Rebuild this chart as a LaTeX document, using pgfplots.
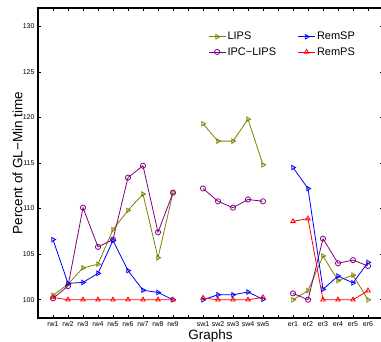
\documentclass[border=0pt]{standalone}
\usepackage{fontspec}
\setmainfont{Liberation Sans}
\usepackage{pgfplots}
\pgfplotsset{compat=1.18}
\usetikzlibrary{calc}
\definecolor{olivec}{RGB}{128,128,0}
\definecolor{purplec}{RGB}{128,0,128}
\definecolor{bluec}{RGB}{0,0,255}
\definecolor{redc}{RGB}{255,0,0}
\begin{document}
\begin{tikzpicture}
\begin{axis}[
  scale only axis, width=345pt, height=310pt,
  xmin=0, xmax=23, ymin=98, ymax=132,
  xtick={1,...,22},
  xticklabels={rw1,rw2,rw3,rw4,rw5,rw6,rw7,rw8,rw9,{},sw1,sw2,sw3,sw4,sw5,{},er1,er2,er3,er4,er5,er6},
  ytick={100,105,110,115,120,125,130},
  tick align=inside, major tick length=3.3pt,
  tick style={black, line width=0.6pt},
  tick label style={font=\fontsize{7}{8}\selectfont},
  xticklabel style={inner xsep=0pt},
  /pgf/number format/assume math mode=true,
  axis line style={line width=1.2pt},
  ylabel={Percent of GL−Min time}, xlabel={Graphs},
  label style={font=\fontsize{13.5}{15}\selectfont},
  ylabel style={at={(axis description cs:-0.0594,0.5)}, anchor=center},
  xlabel style={at={(axis description cs:0.5,-0.058)}, anchor=center},
  unbounded coords=jump,
  legend columns=2, transpose legend,
  legend cell align=left,
  legend style={at={(axis description cs:0.484,0.934)}, anchor=north west, draw=none, fill=none,
    font=\fontsize{11}{12}\selectfont, row sep=3pt,
    /tikz/every even column/.append style={column sep=20pt},
    nodes={inner sep=1.5pt}},
  every axis plot/.append style={line width=0.8pt, mark size=2.6pt},
]
\addplot[olivec, mark=triangle, mark options={rotate=-90, solid, fill=none}] coordinates {
 (1,100.5) (2,101.7) (3,103.5) (4,103.9) (5,107.7) (6,109.8) (7,111.6) (8,104.6) (9,111.75) (10,nan)
 (11,119.3) (12,117.4) (13,117.4) (14,119.8) (15,114.8) (16,nan)
 (17,100) (18,101.0) (19,104.8) (20,102.1) (21,102.7) (22,100)};
\addlegendentry{LIPS}
\addplot[purplec, mark=o, mark options={solid, fill=none}] coordinates {
 (1,100.15) (2,101.5) (3,110.1) (4,105.8) (5,106.6) (6,113.4) (7,114.7) (8,107.4) (9,111.75) (10,nan)
 (11,112.2) (12,110.8) (13,110.1) (14,111.0) (15,110.8) (16,nan)
 (17,100.7) (18,100) (19,106.7) (20,104.0) (21,104.35) (22,103.7)};
\addlegendentry{IPC−LIPS}
\addplot[bluec, mark=triangle, mark options={rotate=-90, solid, fill=none}] coordinates {
 (1,106.6) (2,101.8) (3,101.9) (4,102.9) (5,106.5) (6,103.2) (7,101.05) (8,100.8) (9,100) (10,nan)
 (11,100) (12,100.55) (13,100.55) (14,100.85) (15,100.05) (16,nan)
 (17,114.5) (18,112.2) (19,101.15) (20,102.6) (21,101.85) (22,104.1)};
\addlegendentry{RemSP}
\addplot[redc, mark=triangle, mark options={solid, fill=none}] coordinates {
 (1,100.25) (2,100) (3,100) (4,100) (5,100) (6,100) (7,100) (8,100) (9,100) (10,nan)
 (11,100.2) (12,100) (13,100) (14,100) (15,100.25) (16,nan)
 (17,108.6) (18,108.9) (19,100) (20,100) (21,100) (22,101.0)};
\addlegendentry{RemPS}
\end{axis}
\pgfresetboundingbox
\useasboundingbox ($(current axis.south west)+(-38pt,-24pt)$) rectangle ($(current axis.north east)+(-2pt,8pt)$);
\end{tikzpicture}
\end{document}
